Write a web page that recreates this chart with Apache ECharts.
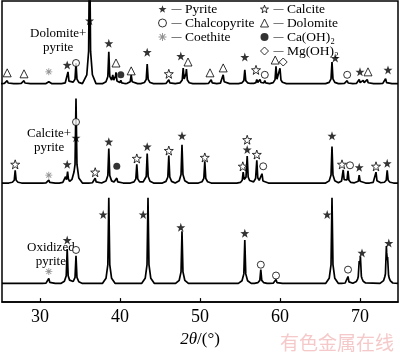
<!DOCTYPE html>
<html>
<head>
<meta charset="utf-8">
<script src="https://cdn.jsdelivr.net/npm/echarts@6/dist/echarts.min.js"></script>
<style>
  html, body { margin: 0; padding: 0; background: #fff; }
  #chart { width: 400px; height: 353px; }
</style>
</head>
<body>
<div id="chart"></div>
<script>
  // 2θ range of the plot (degrees)
  let thetaMin = 25.25, thetaMax = 74.75;
  let xTicks = [30, 40, 50, 60, 70];

  // baseline of each pattern, in intensity units (top, middle, bottom)
  let traceNames = ['Dolomite+\npyrite', 'Calcite+\npyrite', 'Oxidized\npyrite'];
  let traceOffsets = [222, 121, 19];

  // peaks: position (2θ) and height above baseline
  let dolPos = [25.9, 28.0, 31.1, 33.5, 34.5, 36.2, 38.6, 39.1, 39.5, 40.1, 41.4, 43.4, 46.1, 47.9, 48.3, 51.4, 52.9, 55.6, 57.1, 57.5, 58.1, 59.5, 60.0, 66.5, 68.4, 69.9, 70.4, 70.9, 73.2];
  let dolInt = [3, 3, 2, 12, 21, 150, 32, 7, 11, 3, 9, 20, 4, 15, 14, 4, 9, 14, 4, 4, 3, 17, 15, 22, 3, 4, 3, 4, 5];

  let calPos = [26.9, 31.1, 33.2, 33.45, 34.5, 36.9, 38.6, 39.6, 42.1, 43.4, 46.1, 47.75, 50.6, 55.4, 55.9, 57.1, 57.75, 66.5, 67.9, 68.5, 69.9, 72.0, 73.4];
  let calInt = [13, 3, 5, 11, 86, 5, 35, 5, 19, 30, 28, 39, 22, 10, 27, 23, 9, 37, 13, 12, 8, 11, 13];

  let oxPos = [31.1, 33.4, 34.5, 38.6, 43.5, 47.75, 55.6, 57.6, 59.5, 66.5, 68.5, 69.9, 70.05, 73.3, 73.45];
  let oxInt = [5, 35, 28, 87, 87, 53, 44, 14, 4, 87, 7, 18, 24, 34, 20];

  // phase markers: [trace index, 2θ, height above baseline]
  let pyriteMarks = [
    [0, 33.4, 19], [0, 36.2, 64], [0, 38.6, 41], [0, 43.4, 32], [0, 47.6, 28], [0, 55.6, 27], [0, 66.9, 26], [0, 70.0, 12], [0, 73.5, 14],
    [1, 33.4, 19], [1, 34.5, 46], [1, 38.6, 42], [1, 43.4, 37], [1, 47.75, 48], [1, 55.9, 34], [1, 66.5, 48], [1, 69.9, 16], [1, 73.4, 20],
    [2, 33.4, 44], [2, 37.9, 70], [2, 42.9, 70], [2, 47.6, 57], [2, 55.6, 51], [2, 65.9, 70], [2, 70.25, 31], [2, 73.6, 41]
  ];
  let calciteMarks = [
    [0, 46.1, 10], [0, 57.0, 14],
    [1, 26.9, 19], [1, 36.9, 11], [1, 42.1, 25], [1, 46.1, 33], [1, 50.6, 26], [1, 55.35, 17], [1, 55.9, 44], [1, 57.1, 29], [1, 67.75, 19], [1, 72.0, 17]
  ];
  let chalcoMarks = [
    [0, 34.5, 21], [0, 58.1, 9], [0, 68.4, 9],
    [1, 34.5, 62], [1, 57.9, 17], [1, 68.75, 18],
    [2, 34.5, 34], [2, 57.6, 19], [2, 59.5, 8], [2, 68.5, 14]
  ];
  let coethiteMarks = [[0, 31.1, 12], [1, 31.1, 8], [2, 31.1, 12]];
  let dolomiteMarks = [[0, 25.9, 11], [0, 28.0, 10], [0, 39.5, 21], [0, 41.4, 13], [0, 48.5, 22], [0, 51.25, 11], [0, 52.9, 16], [0, 59.4, 24], [0, 71.0, 12]];
  let caohMarks = [[0, 40.1, 9], [1, 39.6, 17]];
  let mgohMarks = [[0, 60.4, 22]];

  // peak shape used to draw each reflection (offset in degrees -> fraction of height)
  let shapeOff = [-0.8, -0.35, -0.12, 0, 0.12, 0.35, 0.8];
  let shapeFrac = [0, 0.06, 0.22, 1, 0.22, 0.06, 0];

  function shapeAt(d) {
    if (d <= shapeOff[0] || d >= shapeOff[shapeOff.length - 1]) return 0;
    for (let i = 1; i < shapeOff.length; i++) {
      if (d <= shapeOff[i]) {
        let t = (d - shapeOff[i - 1]) / (shapeOff[i] - shapeOff[i - 1]);
        return shapeFrac[i - 1] + t * (shapeFrac[i] - shapeFrac[i - 1]);
      }
    }
    return 0;
  }

  function buildTrace(pos, ints, offset) {
    let xs = [thetaMin, thetaMax];
    pos.forEach(p => shapeOff.forEach(o => xs.push(p + o)));
    xs.sort((a, b) => a - b);
    return xs.map(x => {
      let y = offset;
      pos.forEach((p, i) => { y += ints[i] * shapeAt(x - p); });
      return [x, y];
    });
  }

  function markData(marks) {
    return marks.map(m => [m[1], traceOffsets[m[0]] + m[2]]);
  }

  let starPath = 'path://M0,-10L2.35,-3.24L9.51,-3.09L3.8,1.24L5.88,8.09L0,4L-5.88,8.09L-3.8,1.24L-9.51,-3.09L-2.35,-3.24Z';
  let asteriskPath = 'path://M-1.2,-10L1.2,-10L1.2,10L-1.2,10Z M-10,-1.2L10,-1.2L10,1.2L-10,1.2Z M-7.9,-6.2L-6.2,-7.9L7.9,6.2L6.2,7.9Z M6.2,-7.9L7.9,-6.2L-6.2,7.9L-7.9,6.2Z';

  let serif = '"Liberation Serif", "DejaVu Serif", serif';

  let myChart = echarts.init(document.getElementById('chart'));

  let traces = [
    buildTrace(dolPos, dolInt, traceOffsets[0]),
    buildTrace(calPos, calInt, traceOffsets[1]),
    buildTrace(oxPos, oxInt, traceOffsets[2])
  ];

  let lineSeries = traces.map(t => ({
    type: 'line',
    data: t,
    showSymbol: false,
    clip: true,
    lineStyle: { color: '#000', width: 1.7 },
    z: 2,
    silent: true
  }));

  // phase styles: symbol, size, fill, border
  let phases = [
    { name: 'Pyrite', marks: pyriteMarks, symbol: starPath, size: 9, fill: '#000', border: '#000' },
    { name: 'Chalcopyrite', marks: chalcoMarks, symbol: 'circle', size: 7, fill: '#fff', border: '#000' },
    { name: 'Coethite', marks: coethiteMarks, symbol: asteriskPath, size: 7, fill: '#777', border: '#777' },
    { name: 'Calcite', marks: calciteMarks, symbol: starPath, size: 9, fill: '#fff', border: '#000' },
    { name: 'Dolomite', marks: dolomiteMarks, symbol: 'triangle', size: 8, fill: '#fff', border: '#000' },
    { name: 'Ca(OH)₂', marks: caohMarks, symbol: 'circle', size: 7, fill: '#000', border: '#000' },
    { name: 'Mg(OH)₂', marks: mgohMarks, symbol: 'diamond', size: 8, fill: '#fff', border: '#000' }
  ];

  let markSeries = phases.map(p => ({
    name: p.name,
    type: 'scatter',
    data: markData(p.marks),
    symbol: p.symbol,
    symbolSize: p.size,
    itemStyle: { color: p.fill, borderColor: p.border, borderWidth: p.fill === p.border ? 0 : 1 },
    z: 3
  }));

  function legendItems(names) {
    return names.map(n => {
      let p = phases.find(ph => ph.name === n);
      return {
        name: n,
        icon: p.symbol,
        itemStyle: { color: p.fill, borderColor: p.border, borderWidth: p.fill === p.border ? 0 : 1 }
      };
    });
  }

  let legendText = {
    fontFamily: serif,
    fontSize: 13.5,
    color: '#000',
    lineHeight: 13,
    rich: {
      d: { fontFamily: serif, fontSize: 10, color: '#000', lineHeight: 13 }
    }
  };

  let option = {
    animation: false,
    grid: {
      left: 2,
      right: 2,
      top: 1,
      bottom: 47,
      show: true,
      borderColor: '#000',
      borderWidth: 1.5
    },
    legend: [
      {
        data: legendItems(['Pyrite', 'Chalcopyrite', 'Coethite']),
        orient: 'vertical',
        left: 153,
        top: -3,
        itemWidth: 8,
        itemHeight: 8,
        itemGap: 0,
        formatter: '{d|—} {name}',
        textStyle: legendText,
        selectedMode: false
      },
      {
        data: legendItems(['Calcite', 'Dolomite', 'Ca(OH)₂', 'Mg(OH)₂']),
        orient: 'vertical',
        left: 255,
        top: -3,
        itemWidth: 8,
        itemHeight: 8,
        itemGap: 0,
        formatter: '{d|—} {name}',
        textStyle: legendText,
        selectedMode: false
      }
    ],
    xAxis: {
      type: 'value',
      min: thetaMin,
      max: thetaMax,
      splitLine: { show: false },
      axisLine: { lineStyle: { color: '#000', width: 1.5 } },
      axisTick: { inside: true, length: 4, lineStyle: { color: '#000', width: 1.2 } },
      axisLabel: {
        color: '#000',
        fontFamily: serif,
        fontSize: 18,
        margin: 6,
        showMinLabel: false,
        showMaxLabel: false,
        formatter: v => (xTicks.indexOf(v) >= 0 ? String(v) : '')
      },
      name: '{i|2θ}/(°)',
      nameLocation: 'middle',
      nameGap: 28,
      nameTextStyle: {
        color: '#000',
        fontFamily: serif,
        fontSize: 17,
        rich: {
          i: { fontFamily: serif, fontSize: 17, fontStyle: 'italic', color: '#000' }
        }
      }
    },
    yAxis: {
      type: 'value',
      min: 0,
      max: 306,
      show: false
    },
    graphic: [
      {
        type: 'text', left: 30, top: 27,
        style: { text: traceNames[0], fontFamily: serif, fontSize: 13, fill: '#000', textAlign: 'center', lineHeight: 14 }
      },
      {
        type: 'text', left: 27, top: 127,
        style: { text: traceNames[1], fontFamily: serif, fontSize: 13, fill: '#000', textAlign: 'center', lineHeight: 14 }
      },
      {
        type: 'text', left: 27, top: 241,
        style: { text: traceNames[2], fontFamily: serif, fontSize: 13, fill: '#000', textAlign: 'center', lineHeight: 14 }
      },
      {
        type: 'text', right: 6, bottom: 1,
        style: { text: '有色金属在线', fontFamily: '"Noto Sans CJK SC"', fontSize: 19, fill: '#f5c9c9' }
      }
    ],
    series: lineSeries.concat(markSeries)
  };
  myChart.setOption(option);
</script>
</body>
</html>
